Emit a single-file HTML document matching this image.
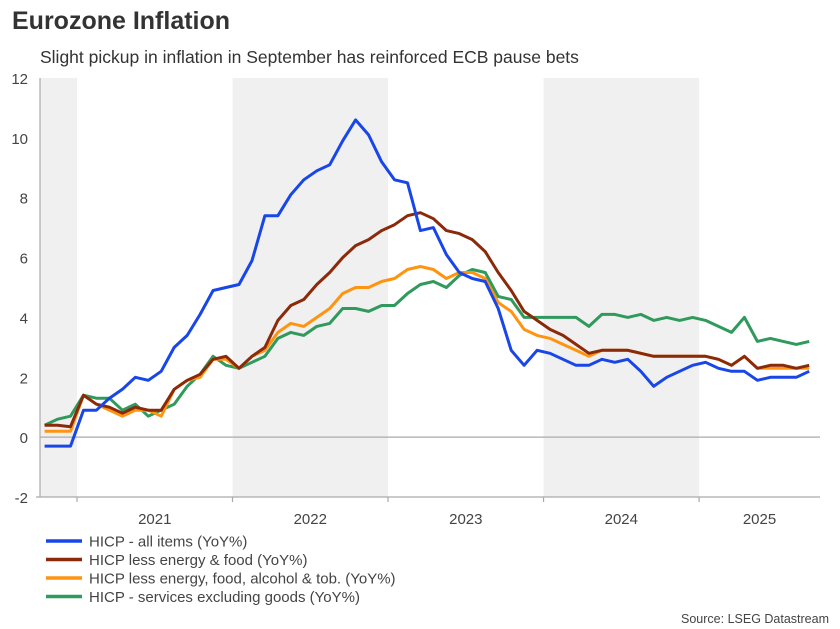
<!DOCTYPE html>
<html><head><meta charset="utf-8"><style>
body{margin:0;background:#fff;font-family:"Liberation Sans",Arial,sans-serif;}
#wrap{position:relative;width:840px;height:629px;overflow:hidden;}
</style></head><body>
<div id="wrap">
<svg id="chart" width="840" height="629" xmlns="http://www.w3.org/2000/svg">
<text x="12" y="29" font-size="25" font-weight="bold" fill="#333">Eurozone Inflation</text>
<text x="40" y="63" font-size="17.5" fill="#333">Slight pickup in inflation in September has reinforced ECB pause bets</text>
<g id="plot"></g>
<text x="829" y="623" font-size="12.5" fill="#444" text-anchor="end">Source: LSEG Datastream</text>
</svg>
</div>
<script>
const yTicks=[-2,0,2,4,6,8,10,12];
const yearLabels=["2021","2022","2023","2024","2025"];
const seriesNames=["HICP - all items (YoY%)","HICP less energy & food (YoY%)","HICP less energy, food, alcohol & tob. (YoY%)","HICP - services excluding goods (YoY%)"];
const seriesColors=["#1846e8","#8b2a0a","#ff9410","#2f9a5c"];
// monthly, Oct 2020 .. Sep 2025
const headline=[-0.3,-0.3,-0.3, 0.9,0.9,1.3,1.6,2.0,1.9,2.2,3.0,3.4,4.1,4.9,5.0, 5.1,5.9,7.4,7.4,8.1,8.6,8.9,9.1,9.9,10.6,10.1,9.2, 8.6,8.5,6.9,7.0,6.1,5.5,5.3,5.2,4.3,2.9,2.4,2.9, 2.8,2.6,2.4,2.4,2.6,2.5,2.6,2.2,1.7,2.0,2.2,2.4, 2.5,2.3,2.2,2.2,1.9,2.0,2.0,2.0,2.2];
const coreEF=[0.4,0.4,0.35, 1.4,1.1,1.0,0.8,1.0,0.9,0.9,1.6,1.9,2.1,2.6,2.7, 2.3,2.7,3.0,3.9,4.4,4.6,5.1,5.5,6.0,6.4,6.6,6.9, 7.1,7.4,7.5,7.3,6.9,6.8,6.6,6.2,5.5,4.9,4.2,3.9, 3.6,3.4,3.1,2.8,2.9,2.9,2.9,2.8,2.7,2.7,2.7,2.7, 2.7,2.6,2.4,2.7,2.3,2.4,2.4,2.3,2.4];
const coreEFAT=[0.2,0.2,0.2, 1.4,1.1,0.9,0.7,0.9,0.9,0.7,1.6,1.9,2.0,2.6,2.6, 2.3,2.7,2.9,3.5,3.8,3.7,4.0,4.3,4.8,5.0,5.0,5.2, 5.3,5.6,5.7,5.6,5.3,5.5,5.5,5.3,4.5,4.2,3.6,3.4, 3.3,3.1,2.9,2.7,2.9,2.9,2.9,2.8,2.7,2.7,2.7,2.7, 2.7,2.6,2.4,2.7,2.3,2.3,2.3,2.3,2.3];
const services=[0.4,0.6,0.7, 1.4,1.3,1.3,0.9,1.1,0.7,0.9,1.1,1.7,2.1,2.7,2.4, 2.3,2.5,2.7,3.3,3.5,3.4,3.7,3.8,4.3,4.3,4.2,4.4, 4.4,4.8,5.1,5.2,5.0,5.4,5.6,5.5,4.7,4.6,4.0,4.0, 4.0,4.0,4.0,3.7,4.1,4.1,4.0,4.1,3.9,4.0,3.9,4.0, 3.9,3.7,3.5,4.0,3.2,3.3,3.2,3.1,3.2];
const allSeries=[headline,coreEF,coreEFAT,services];

const NS="http://www.w3.org/2000/svg";
const plot=document.getElementById("plot");
const X0=40,X1=820,Y0=497,YT=78,MW=12.96,JAN21=77;
const yS=v=>Y0-(v+2)*(Y0-YT)/14;
const xS=i=>JAN21+(i-3+0.5)*MW; // i=0 -> Oct 2020
const xYear=y=>JAN21+y*12*MW;
function mk(t,a){const e=document.createElementNS(NS,t);for(const k in a)e.setAttribute(k,a[k]);plot.appendChild(e);return e;}
// shading
[[X0,xYear(0)],[xYear(1),xYear(2)],[xYear(3),xYear(4)]].forEach((b,k)=>{
 const r=mk("rect",{x:b[0],y:YT,width:b[1]-b[0],height:Y0-YT,fill:"#f0f0f0"});
 
 
});
// y ticks
yTicks.forEach(v=>{
 const t=mk("text",{x:28,y:yS(v)+6,"font-size":"15","text-anchor":"end",fill:"#444"});t.textContent=v;
 
 
});
const zl=mk("line",{x1:X0,x2:X1,y1:yS(0),y2:yS(0),stroke:"#aaa","stroke-width":1.2});


const ya=mk("line",{x1:X0,x2:X0,y1:YT,y2:Y0,stroke:"#aaa","stroke-width":1.2});


const xa=mk("line",{x1:X0-4,x2:X1,y1:Y0,y2:Y0,stroke:"#aaa","stroke-width":1.2});


for(let k=0;k<5;k++){
 const tk=mk("line",{x1:xYear(k),x2:xYear(k),y1:Y0,y2:Y0+5,stroke:"#aaa","stroke-width":1.2});
 
 
}
yearLabels.forEach((l,k)=>{
 const cx=k<4?(xYear(k)+xYear(k+1))/2:(xYear(4)+X1)/2;
 const t=mk("text",{x:cx,y:524,"font-size":"15","text-anchor":"middle",fill:"#444"});t.textContent=l;
 
 
});
// series (draw order: headline on top last)
[3,2,1,0].forEach(s=>{
 const d=allSeries[s].map((v,i)=>(i?"L":"M")+xS(i).toFixed(1)+","+yS(v).toFixed(1)).join("");
 const p=mk("path",{d:d,fill:"none",stroke:seriesColors[s],"stroke-width":3,"stroke-linejoin":"round"});
 
 
});
// legend
seriesNames.forEach((n,k)=>{
 const y=541+k*18.5;
 const l=mk("line",{x1:46,x2:82,y1:y,y2:y,stroke:seriesColors[k],"stroke-width":3.5});
 
 
 const t=mk("text",{x:89,y:y+5.5,"font-size":"15",fill:"#444"});t.textContent=n;
 
 
});
</script>
</body></html>
